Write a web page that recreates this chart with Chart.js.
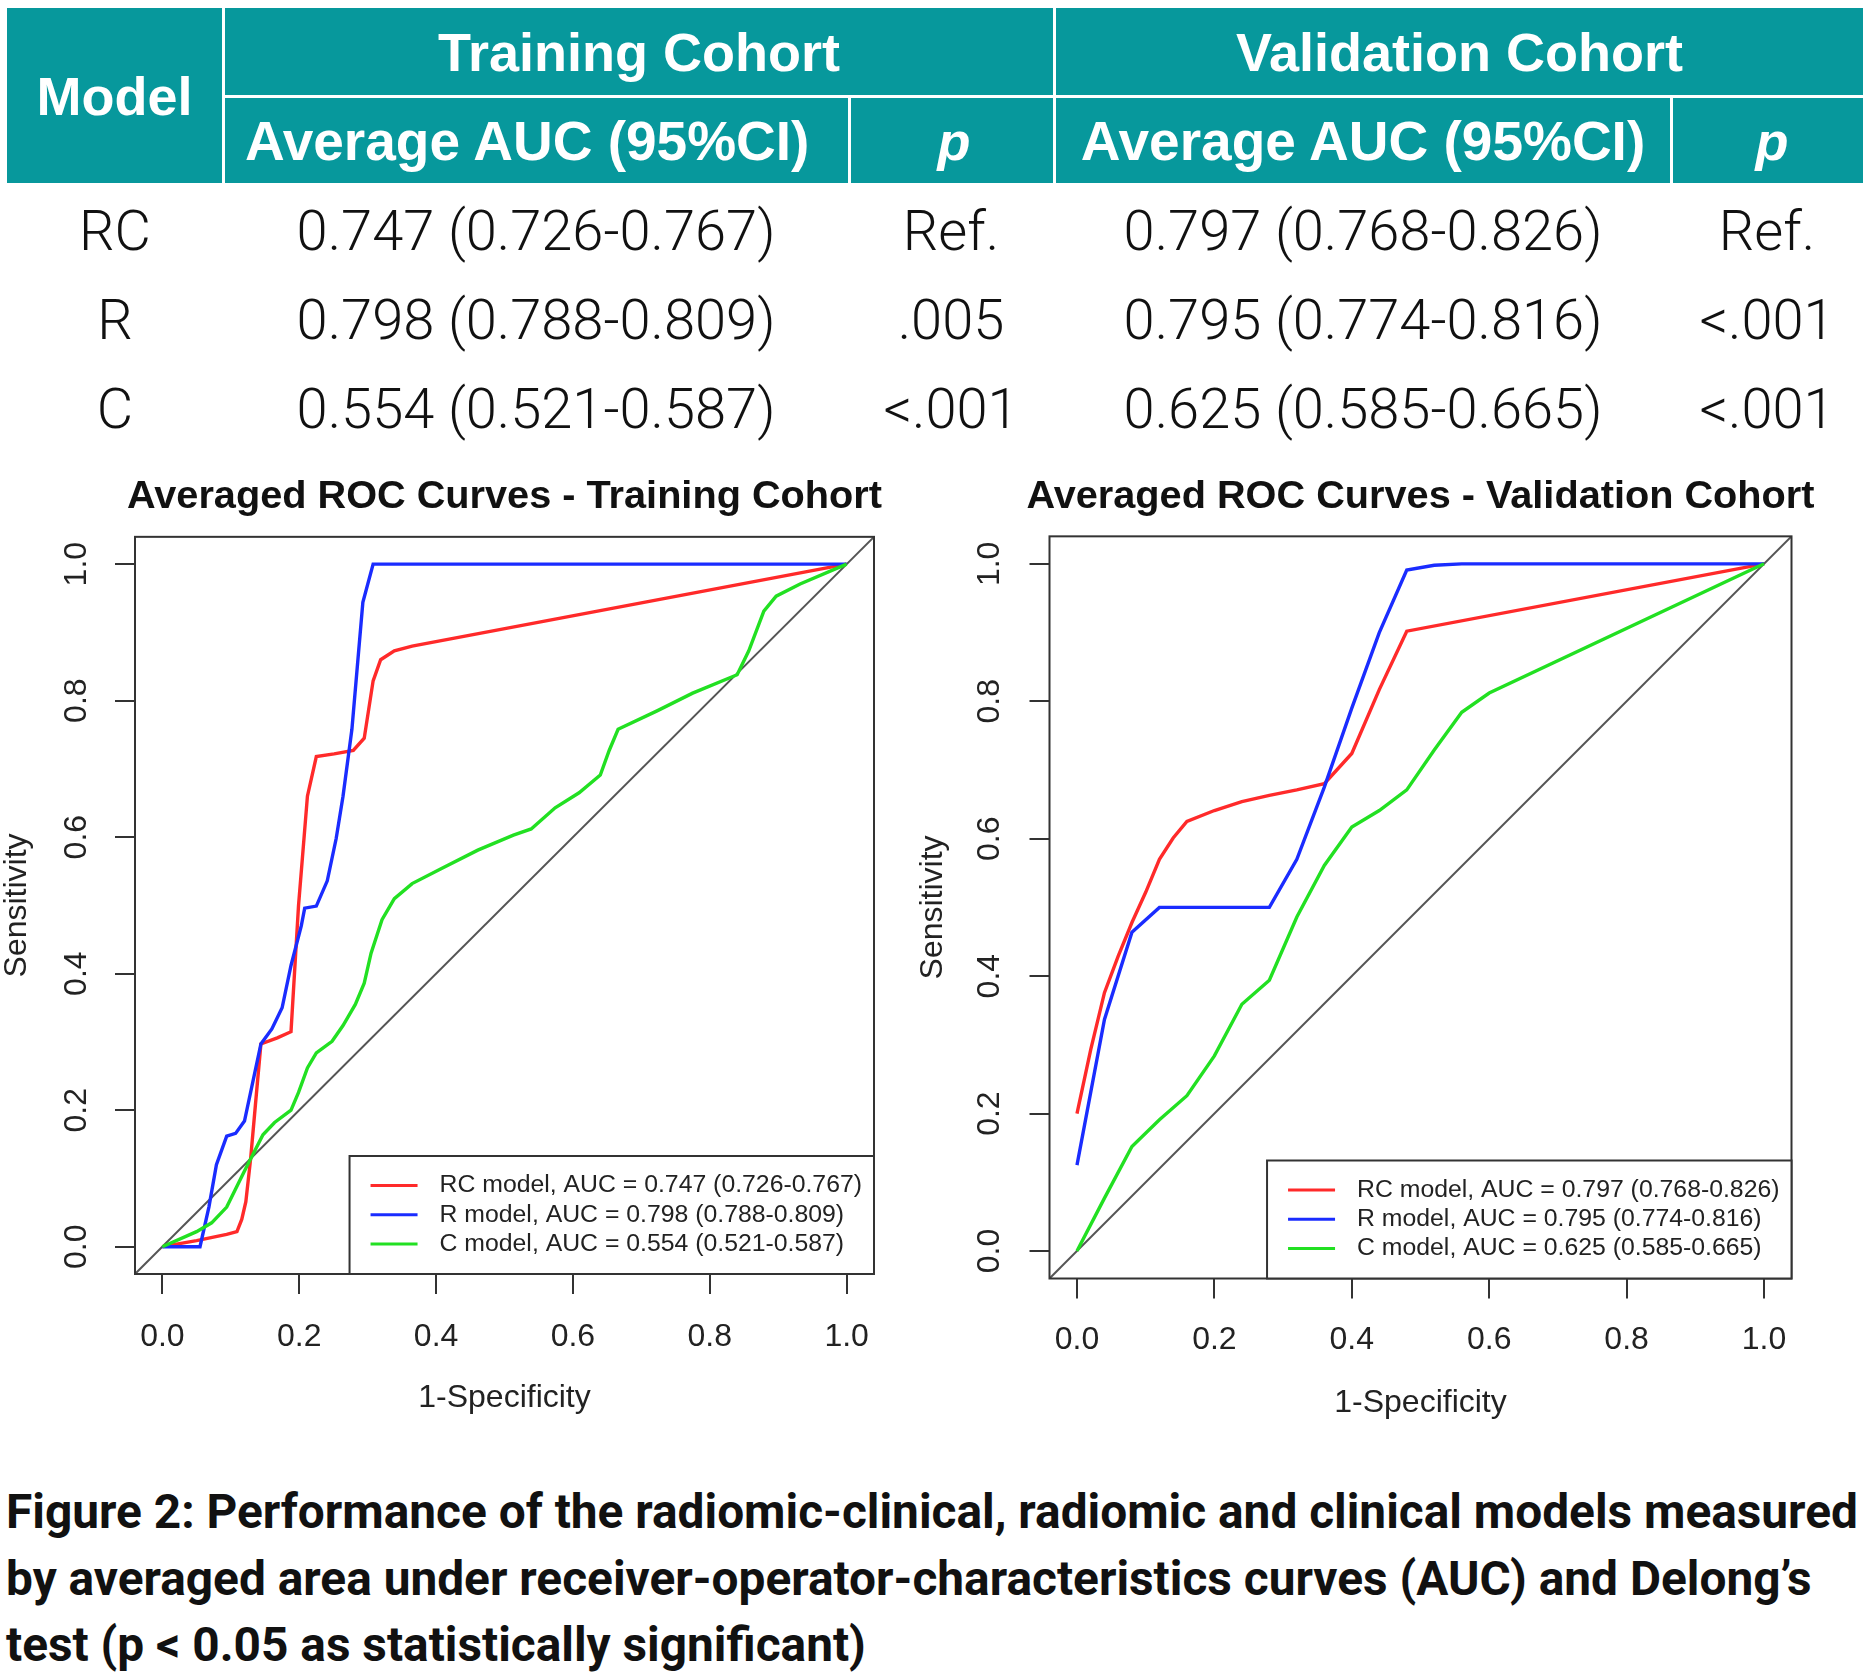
<!DOCTYPE html>
<html><head><meta charset="utf-8">
<script src="https://cdn.jsdelivr.net/npm/chart.js@4.4.1/dist/chart.umd.min.js"></script>
<style>
html,body{margin:0;padding:0;background:#fff;overflow:hidden;}
body{width:1870px;height:1675px;position:relative;}
.hd{position:absolute;background:#07989c;color:#fff;font-family:"Liberation Sans",Arial,sans-serif;font-weight:bold;font-size:54px;display:flex;align-items:center;justify-content:center;white-space:nowrap;}
.bd{position:absolute;font-family:Roboto,"Noto Sans",sans-serif;font-weight:300;font-size:56px;color:#111;white-space:nowrap;transform:translate(-50%,-50%);line-height:1;}
.cap{position:absolute;left:6px;font-family:Roboto,"Noto Sans",sans-serif;font-weight:700;font-size:47.8px;color:#111;white-space:nowrap;transform:translateY(-50%);line-height:1;}
canvas{position:absolute;}
#wrap{position:absolute;left:0;top:0;width:1870px;height:1675px;overflow:hidden;}
</style>
</head><body>
<div id="wrap">
<div id="table"></div>
<canvas id="cTrain" width="1009" height="970" style="left:0;top:460px;width:1009px;height:970px;"></canvas>
<canvas id="cVal" width="1051" height="970" style="left:895px;top:460px;width:1051px;height:970px;"></canvas>
<div id="caption"></div>
</div>
<script>
// ---------- DATA ----------
const models = ['RC', 'R', 'C'];
const trainAUC = ['0.747 (0.726-0.767)', '0.798 (0.788-0.809)', '0.554 (0.521-0.587)'];
const trainP = ['Ref.', '.005', '<.001'];
const valAUC = ['0.797 (0.768-0.826)', '0.795 (0.774-0.816)', '0.625 (0.585-0.665)'];
const valP = ['Ref.', '<.001', '<.001'];

const axisTicks = [0, 0.2, 0.4, 0.6, 0.8, 1.0];
const axisRange = [-0.04, 1.04];
const refLine = [-0.04, 1.04];

// Training cohort averaged ROC curves (1-specificity, sensitivity)
const trainRC_fpr = [0, 0.05, 0.094, 0.109, 0.116, 0.122, 0.129, 0.136, 0.144, 0.168, 0.188, 0.199, 0.212, 0.225, 0.251, 0.279, 0.295, 0.308, 0.319, 0.339, 0.365, 1.0];
const trainRC_tpr = [0, 0.009, 0.018, 0.022, 0.04, 0.066, 0.129, 0.208, 0.297, 0.306, 0.315, 0.5, 0.66, 0.718, 0.722, 0.727, 0.745, 0.829, 0.86, 0.873, 0.88, 1.0];
const trainR_fpr = [0, 0.055, 0.068, 0.079, 0.094, 0.107, 0.12, 0.144, 0.16, 0.175, 0.188, 0.203, 0.208, 0.225, 0.241, 0.254, 0.264, 0.277, 0.293, 0.308, 1.0];
const trainR_tpr = [0, 0, 0.058, 0.12, 0.162, 0.166, 0.184, 0.297, 0.319, 0.35, 0.412, 0.47, 0.496, 0.499, 0.536, 0.598, 0.66, 0.758, 0.944, 1.0, 1.0];
const trainC_fpr = [0, 0.05, 0.072, 0.094, 0.12, 0.147, 0.164, 0.188, 0.199, 0.212, 0.225, 0.248, 0.264, 0.282, 0.295, 0.305, 0.321, 0.339, 0.365, 0.408, 0.461, 0.513, 0.539, 0.574, 0.609, 0.64, 0.653, 0.666, 0.723, 0.775, 0.84, 0.857, 0.879, 0.897, 0.932, 1.0];
const trainC_tpr = [0, 0.022, 0.035, 0.058, 0.111, 0.164, 0.182, 0.2, 0.226, 0.262, 0.284, 0.301, 0.324, 0.355, 0.386, 0.43, 0.479, 0.51, 0.532, 0.554, 0.581, 0.603, 0.612, 0.643, 0.665, 0.691, 0.727, 0.758, 0.785, 0.811, 0.838, 0.873, 0.931, 0.953, 0.971, 1.0];

// Validation cohort averaged ROC curves
const valRC_fpr = [0, 0.02, 0.04, 0.06, 0.08, 0.10, 0.12, 0.14, 0.16, 0.20, 0.24, 0.28, 0.32, 0.36, 0.40, 0.44, 0.48, 1.0];
const valRC_tpr = [0.2, 0.293, 0.376, 0.429, 0.478, 0.522, 0.57, 0.601, 0.625, 0.641, 0.654, 0.663, 0.671, 0.68, 0.724, 0.817, 0.902, 1.0];
const valR_fpr = [0, 0.04, 0.08, 0.12, 0.28, 0.32, 0.36, 0.40, 0.44, 0.48, 0.52, 0.56, 1.0];
const valR_tpr = [0.125, 0.337, 0.464, 0.5, 0.5, 0.57, 0.675, 0.79, 0.9, 0.991, 0.998, 1.0, 1.0];
const valC_fpr = [0, 0.04, 0.08, 0.12, 0.16, 0.20, 0.24, 0.28, 0.32, 0.36, 0.40, 0.44, 0.48, 0.52, 0.56, 0.60, 1.0];
const valC_tpr = [0, 0.077, 0.152, 0.191, 0.226, 0.284, 0.359, 0.394, 0.486, 0.561, 0.617, 0.641, 0.671, 0.729, 0.784, 0.812, 1.0];

const modelColors = ['#ff2a2a', '#1a2cff', '#22e022'];

// ---------- TABLE ----------
const T = document.getElementById('table');
function hd(l, t, w, h, html, extra) {
  const d = document.createElement('div');
  d.className = 'hd';
  d.style.cssText = `left:${l}px;top:${t}px;width:${w}px;height:${h}px;` + (extra || '');
  d.innerHTML = html;
  T.appendChild(d);
}
hd(7, 8, 215, 175, 'Model');
hd(225, 8, 828, 87, 'Training Cohort');
hd(1056, 8, 807, 87, 'Validation Cohort');
hd(225, 98, 623, 85, 'Average AUC (95%CI)', 'justify-content:flex-start;padding-left:20px;box-sizing:border-box;font-size:55px;');
hd(851, 98, 202, 85, '<i>p</i>', 'padding-left:4px;box-sizing:border-box;');
hd(1056, 98, 614, 85, 'Average AUC (95%CI)', 'font-size:55px;');
hd(1673, 98, 190, 85, '<i>p</i>', 'padding-left:8px;box-sizing:border-box;');

const colX = [115, 536, 951, 1363, 1767];
const rowY = [231, 320, 409];
models.forEach((m, i) => {
  [m, trainAUC[i], trainP[i], valAUC[i], valP[i]].forEach((txt, j) => {
    const d = document.createElement('div');
    d.className = 'bd';
    d.style.left = colX[j] + 'px';
    d.style.top = rowY[i] + 'px';
    d.textContent = txt;
    T.appendChild(d);
  });
});

// ---------- CAPTION ----------
const captionLines = [
  'Figure 2: Performance of the radiomic-clinical, radiomic and clinical models measured',
  'by averaged area under receiver-operator-characteristics curves (AUC) and Delong\u2019s',
  'test (p < 0.05 as statistically significant)'
];
const capY = [1513, 1580, 1646];
const C = document.getElementById('caption');
captionLines.forEach((t, i) => {
  const d = document.createElement('div');
  d.className = 'cap';
  d.style.top = capY[i] + 'px';
  d.textContent = t;
  C.appendChild(d);
});

// ---------- CHARTS ----------
const FAM = '"Liberation Sans", Arial, Helvetica, sans-serif';
function pts(xs, ys) { return xs.map((x, i) => ({x: x, y: ys[i]})); }

function rPlugin(labels) {
  return {
    id: 'rbox',
    afterDatasetsDraw(chart) {
      const ctx = chart.ctx, a = chart.chartArea;
      ctx.save();
      ctx.strokeStyle = '#333';
      ctx.lineWidth = 2;
      ctx.strokeRect(a.left, a.top, a.right - a.left, a.bottom - a.top);
      ctx.font = '24.8px ' + FAM;
      const tw = Math.max.apply(null, labels.map(l => ctx.measureText(l).width));
      const w = tw + 90 + 12, h = 118;
      const lx = a.right - w, ly = a.bottom - h;
      ctx.fillStyle = '#fff';
      ctx.fillRect(lx, ly, w, h);
      ctx.strokeRect(lx, ly, w, h);
      labels.forEach((l, i) => {
        const y = ly + 29.5 + i * 29.3;
        ctx.strokeStyle = modelColors[i];
        ctx.lineWidth = 3;
        ctx.beginPath(); ctx.moveTo(lx + 21, y); ctx.lineTo(lx + 68, y); ctx.stroke();
        ctx.fillStyle = '#222';
        ctx.textBaseline = 'middle';
        ctx.textAlign = 'left';
        ctx.fillText(l, lx + 90, y);
      });
      ctx.restore();
    }
  };
}

function makeChart(id, title, curves, aucs, g) {
  const order = [3, 2, 1];
  const datasets = curves.map((c, i) => ({
    label: models[i] + ' model',
    data: pts(c[0], c[1]),
    borderColor: modelColors[i],
    borderWidth: 3.4,
    pointRadius: 0,
    showLine: true,
    fill: false,
    tension: 0,
    order: order[i]
  }));
  datasets.push({
    label: 'reference',
    data: pts(refLine, refLine),
    borderColor: '#555',
    borderWidth: 2,
    pointRadius: 0,
    showLine: true,
    fill: false,
    clip: 0,
    order: 4
  });
  const legendLabels = models.map((m, i) => `${m} model, AUC = ${aucs[i]}`);
  return new Chart(document.getElementById(id), {
    type: 'scatter',
    data: {datasets},
    plugins: [rPlugin(legendLabels)],
    options: {
      responsive: false,
      animation: false,
      devicePixelRatio: 1,
      layout: {padding: 0},
      plugins: {
        legend: {display: false},
        tooltip: {enabled: false},
        title: {
          display: true, text: title, color: '#111',
          font: {family: FAM, size: 39.7, weight: 'bold', lineHeight: 1.2},
          padding: {top: 13.6, bottom: g.titleB}
        }
      },
      scales: {
        x: {
          type: 'linear', min: axisRange[0], max: axisRange[1],
          afterBuildTicks: s => { s.ticks = axisTicks.map(v => ({value: v})); },
          afterFit: s => { s.height = g.xH; s.paddingRight = g.padR; },
          grid: {display: true, drawOnChartArea: false, drawTicks: true, tickLength: 20, color: '#333', lineWidth: 2},
          border: {display: false},
          ticks: {font: {family: FAM, size: 32}, color: '#222', padding: g.xTickPad, autoSkip: false, minRotation: 0, maxRotation: 0, callback: v => Number(v).toFixed(1)},
          title: {display: true, text: '1-Specificity', color: '#222', font: {family: FAM, size: 32, lineHeight: 1.2}, padding: {top: 0, bottom: g.xTitlePad}}
        },
        y: {
          type: 'linear', min: axisRange[0], max: axisRange[1],
          afterBuildTicks: s => { s.ticks = axisTicks.map(v => ({value: v})); },
          afterFit: s => { s.width = g.yW; },
          grid: {display: true, drawOnChartArea: false, drawTicks: true, tickLength: 20, color: '#333', lineWidth: 2},
          border: {display: false},
          ticks: {font: {family: FAM, size: 32}, color: '#222', padding: g.yTickPad, autoSkip: false, minRotation: 90, maxRotation: 90, crossAlign: 'center', callback: v => Number(v).toFixed(1)},
          title: {display: true, text: 'Sensitivity', color: '#222', font: {family: FAM, size: 32, lineHeight: 1.2}, padding: {top: g.yTitlePad, bottom: 0}}
        }
      }
    }
  });
}

makeChart('cTrain', 'Averaged ROC Curves - Training Cohort',
  [[trainRC_fpr, trainRC_tpr], [trainR_fpr, trainR_tpr], [trainC_fpr, trainC_tpr]], trainAUC,
  {padR: 135, titleB: 15.6, xH: 156, xTickPad: 23.8, xTitlePad: 12.3, yW: 135, yTickPad: 16, yTitlePad: -2.2});
makeChart('cVal', 'Averaged ROC Curves - Validation Cohort',
  [[valRC_fpr, valRC_tpr], [valR_fpr, valR_tpr], [valC_fpr, valC_tpr]], valAUC,
  {padR: 154.5, titleB: 15.1, xH: 151.5, xTickPad: 22.3, xTitlePad: 7.3, yW: 154.5, yTickPad: 17.3, yTitlePad: 18.8});
</script>
</body></html>
